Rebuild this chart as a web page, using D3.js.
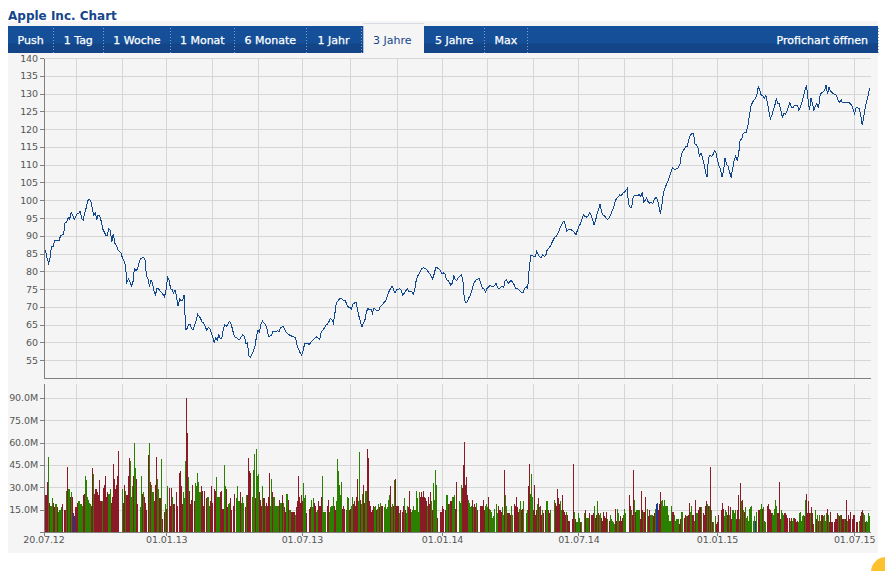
<!DOCTYPE html>
<html>
<head>
<meta charset="utf-8">
<script src="https://d3js.org/d3.v7.min.js"></script>
<style>
body { margin: 0; background: #fff; }
svg { display: block; }
.axis text { font-family: "DejaVu Sans", sans-serif; font-size: 9.5px; fill: #555; letter-spacing: -0.1px; }
.axis path, .axis line { stroke: #808080; shape-rendering: crispEdges; }
.grid line { stroke: #d6d6d6; shape-rendering: crispEdges; }
.grid path { display: none; }
.grid text { display: none; }
</style>
</head>
<body>
<div id="chart"></div>
<script>
// Setting height and width
var w = 885;
var h = 571;

var title = "Apple Inc. Chart";
var tabs = ["Push", "1 Tag", "1 Woche", "1 Monat", "6 Monate", "1 Jahr", "3 Jahre", "5 Jahre", "Max"];
var activeTab = "3 Jahre";
var proLink = "Profichart öffnen";

var priceTicks = d3.range(55, 141, 5);
var volumeTicks = [0, 15, 30, 45, 60, 75, 90];

// the chart snaps its month lines to the last trading day before the month
var gridDates = ["2012-09-01", "2012-11-01", "2012-12-30", "2013-03-01", "2013-05-01", "2013-06-28",
	"2013-08-31", "2013-11-01", "2013-12-31", "2014-03-01", "2014-05-01", "2014-06-30",
	"2014-08-29", "2014-11-01", "2014-12-31", "2015-03-01", "2015-05-01", "2015-07-01"];
var labelDates = ["2012-07-20", "2012-12-30", "2013-06-28", "2013-12-31", "2014-06-30", "2014-12-31", "2015-07-01"];
var labelTexts = ["20.07.12", "01.01.13", "01.07.13", "01.01.14", "01.07.14", "01.01.15", "01.07.15"];

var startDate = "2012-07-20";
var endDate = "2015-07-22";

var prices = [
	86.3,86,84,82.4,84,87.2,87,88.8,88.7,88.7,88.7,90.2,90.4,90.5,94,94,95.2,94.8,96.6,96,
	94.8,95.4,96.3,96.3,97,95,94.5,96.6,98,100.1,100.3,100.1,98,95.9,96.5,94.8,96,95.6,94.2,92,
	91.2,90.3,90.3,92,91.7,88.5,90.7,88,87.5,86.3,85.7,85.4,84,83.2,82,77.1,78,77.3,76,77,
	80.9,80.2,80.8,82.5,83.7,83.9,84.1,83.6,79,78,75.9,77.6,76.8,74.5,73.5,75.5,75.3,74.5,74.3,73.6,
	73,75,78.5,77.6,75.3,75,74,74.8,72.9,70.3,72.4,71.8,72,73.6,63.8,64,65.2,65.2,64,63.8,
	65,66.4,68,67.5,66.8,65.8,65.6,64.5,63.6,64.4,64,63,61.5,60.2,61.5,60.9,62.2,61.3,61.2,64,
	65.1,64.6,65.3,66,65.6,64,62.2,61.6,61.5,60.9,61,61.8,62.3,61.8,59.8,60,56.4,56,56.9,57.8,
	59,61.8,63.5,63.1,65.2,66.1,65.6,65.2,64,61.7,62,62.1,63.4,63.2,63.2,63.5,63.2,64.2,64.5,64.5,
	63.5,62.9,62.5,62.2,62,61.8,61.7,61.5,59.3,58.2,57.2,56.6,58,59.8,60,59.8,59.6,60.1,60.7,61,
	61.5,61.7,61.4,61,63.1,63.6,64.2,64.9,65.3,65.9,66.9,66.6,65.6,68.2,71.2,71.7,72.4,72.6,72.2,71.9,
	71.8,70.8,70.1,70.1,69.6,70.9,71.2,71.5,69.6,67.5,65.9,64.5,65.6,66.5,68.7,69.8,69.3,69.5,68.4,69.8,
	69.3,69.1,69,70.1,70.6,71,71.5,72,73.4,74.5,75.3,76,75,74,75,75.1,75.3,74.8,73.4,73.9,
	74.6,75.3,74.6,74.3,74.6,73.7,74.8,77.6,78.9,79.4,80.4,81,81.1,80.9,80.6,80,79.4,78.8,78,79.5,
	81.3,81.1,80.8,80.4,79.5,79.7,79.5,77.8,77.6,77.1,76.2,76.9,79,77.8,77.6,78.4,78.8,79.2,77.6,72,
	71.3,71.6,72.7,73.4,74.8,76.5,77.3,77.8,78,78.1,76.5,75.5,75.1,74.3,75.3,75.7,76.1,76,75.9,76.1,
	76.7,75.7,75.1,75.6,75.9,75.5,77.6,77.8,76.7,77.1,77.6,77,76.4,75.4,75.3,75,74.5,74.2,74.3,75.2,
	75.9,75.3,80.9,84.6,84.6,84.3,84.3,85.8,84.9,84.2,84,84.8,84.3,84.6,86.3,86.7,87.2,88.1,89,89.8,
	90,90.7,91.8,92.8,93.7,94.3,93.1,91.4,91.9,92,91.8,91.5,91,90.4,91.7,92.8,93.5,94.7,96.1,95.6,
	95.4,95.6,96.6,96,94.7,93.3,94.3,96.3,97.5,99,96.8,96,95.8,95.1,94.7,95.1,95.9,97.1,97.9,99.8,
	100.7,101,101.6,101.3,102,102.4,102.8,103.4,98.9,98.2,98,101.2,101.5,101.5,101.4,101.8,101.2,102.4,99.6,100.1,
	100.8,99.6,99.3,99.6,99.2,100.3,101,100.3,98.7,96.3,98.7,102,103.4,104.5,105.5,106.7,107.8,109.3,108.9,108.8,
	109,109.3,110.2,113,114,114.6,115.3,115.3,117.4,118.4,119,119,116,115.7,114.9,112.5,113.4,112.1,110.4,108.1,
	106.7,112.1,112.7,112.5,113,114,113.4,111.3,109.8,108.7,106.7,108.5,112.1,110.2,109.7,108.1,106.5,109,111.3,112.6,
	111.3,113.2,117,117.4,118.8,119.2,119.3,120.7,123.5,126.3,127.5,128.2,128.7,129.6,132,131.2,129.6,129.6,128.9,129.6,
	127.7,125.4,123,124,125.4,126.8,128.7,127.3,127.3,125.4,123.5,124.5,124.3,125.2,126.3,127.5,126.3,126.1,126.8,126.8,
	126.8,125.4,126.3,127.7,129.3,131.2,132.4,128.7,125.4,129,127.3,125.4,126.8,127.3,126.1,129.6,130.4,130.6,131,132.5,
	130.1,132,130.8,130.4,130.1,129.9,129.6,128.2,127.7,128.4,127.5,127.5,127.7,127.7,127.7,127.3,126.8,125.6,124.5,126.3,
	126.1,125.9,124,121.2,123.5,126.3,128,129.6,131.8
];

// volume in millions, one slot per pixel column; 0 is an empty slot
var volumes = [
	25,25,34,51,20,18,18,23,20,17, 19,19,17,14,15,15,17,19,0,15,
	15,28,44,29,29,24,27,24,13,11, 17,17,20,21,21,19,19,18,25,26,
	38,35,24,22,20,19,18,43,39,26, 29,29,27,25,35,21,21,21,30,32,
	38,24,27,26,26,29,20,24,46,36, 29,32,38,55,0,0,0,29,20,32,
	28,25,25,38,50,48,24,31,38,60, 43,36,19,0,0,17,38,26,27,24,
	20,15,0,52,60,34,32,27,27,21, 32,51,36,29,23,23,49,9,0,14,
	19,16,31,0,30,18,30,24,19,19, 0,27,18,0,40,41,31,19,27,23,
	48,90,67,37,28,19,22,32,0,21, 33,31,40,34,27,27,31,28,18,28,
	0,23,24,24,18,21,31,20,0,29, 28,37,24,24,24,27,28,16,16,45,
	31,29,17,19,20,23,15,0,18,26, 0,23,31,21,21,27,20,24,20,0,
	17,25,25,50,41,40,0,24,42,53, 23,56,38,39,27,22,18,31,23,23,
	18,20,18,24,40,18,36,27,24,24, 18,18,18,18,22,20,20,25,20,17,
	14,26,26,22,15,15,14,14,14,14, 12,17,21,38,24,20,
	25,21,33,23,25,13,0,0,16,17, 22,17,23,20,18,14,15,21,18,18,
	24,38,14,14,14,0,18,22,14,17, 18,18,24,18,15,21,49,41,32,25,
	34,16,18,16,0,15,24,23,15,16, 18,24,19,21,18,24,36,21,54,22,
	19,26,32,20,28,28,56,50,21,18, 14,15,18,17,18,15,16,19,17,20,
	18,18,0,17,19,16,17,22,25,31, 17,19,18,35,36,18,18,18,13,15,
	0,14,18,23,15,13,18,17,28,16, 14,15,18,15,15,28,23,14,27,24,
	27,24,28,24,23,21,18,24,19,27, 21,15,33,22,42,32,10,0,0,14,
	14,18,16,0,15,25,25,19,19,21, 21,24,24,25,16,34,0,0,21,20,
	32,30,45,61,32,37,25,22,20,17, 18,22,17,19,17,20,15,0,0,18,
	18,18,22,15,18,19,17,24,16,15, 14,10,11,16,0,19,13,18,15,15,
	14,17,12,42,25,18,13,13,13,12, 18,12,0,19,18,24,17,14,16,21,
	15,16,21,0,0,13,15,31,46,26, 39,24,15,32,12,15,19,23,17,18,
	12,15,13,0,15,21,21,15,13,15, 0,0,0,22,20,18,29,23,19,21,
	15,25,15,14,12,14,12,8,8,0, 0,9,46,14,9,7,7,13,10,7,
	7,0,0,13,15,10,10,10,13,0, 12,12,13,18,10,12,21,13,12,13,
	10,8,14,11,10,14,9,0,8,12, 9,8,7,6,16,8,16,13,8,11,
	8,10,12,16,13,0,0,0,25,18, 15,12,42,22,14,15,15,15,15,9,
	28,15,14,14,24,0,16,11,15,12, 12,12,11,13,16,19,20,15,19,27,
	21,22,18,22,18,18,18,12,8,8, 18,14,14,12,8,9,9,9,6,9,
	14,14,0,10,12,11,11,12,20,14, 18,12,12,8,22,13,13,15,17,17,
	17,0,13,12,18,21,19,18,18,44, 15,7,7,0,11,6,7,12,0,0,
	15,20,16,11,15,14,12,18,12,17, 9,15,15,13,15,9,15,25,9,33,
	21,22,15,14,17,10,11,8,16,17, 18,0,8,11,8,14,0,15,15,16,
	19,16,17,8,7,0,18,19,16,15, 13,13,12,16,22,18,13,13,34,9,
	15,13,12,13,13,12,10,0,10,8, 10,8,10,10,9,7,8,7,13,14,
	8,11,12,11,22,26,13,21,13,13, 17,13,6,0,15,9,12,8,12,8,
	12,12,11,12,8,13,16,12,7,14, 7,7,0,7,9,9,13,12,11,12,
	12,9,9,9,9,22,8,12,9,14, 0,9,12,12,0,7,7,0,8,11,
	14,15,13,12,7,8,7,13,11
];

// day direction of each volume slot: r down, g up, b unchanged, - empty
var volumeMoves = [
	"rrrgrgggrr","ggrggggr-r","rgrggrgrbb","rrrgggggrr","ggggggrrgr","rrrrrrrgrr","rrrgggrrrr","rrrr---grr",
	"grrrrgggrg","grr--ggrgr","rr-rgrgggr","rrggrrgr-r","grg-rrrgrr","-rr-rrrrgg","grrgrrrr-r","ggggggrrrr",
	"-rgggrrr-r","rggggrrrrg","grrggrr-rr","-ggggrggg-","rgrrrr-ggg","rgggrrrgrr","grrrrggrgg","ggggrggrgr",
	"rggrggrrrr","grrrrr",
	"rrgggr--rr","gggrrggrrr","rgggg-rrgg","gggrrggggg","grrr-gggrr","ggrrrrrggr","ggrrggrrrr","rrrggrggrg",
	"rr-ggggggr","ggrgrrrrgr","-rrgrggrrr","gggggggggr","rrrrrrgrrr","grggggr--r","rrr-rggrgr","rgggrr--gg",
	"grrrrrrggg","grgrrgr--r","rrrrgggrgg","gggg-ggrrr","rggrggrrrr","gg-rrrrrgg","rrg--ggrrg","ggrrrrgrgr",
	"rgr-rggrrg","---grrrrrg","grrrrgrrr-","-rrgrggggr","g--grgggr-","rrrgrrgrgg",
	"rrrrrrg-rg","ggggrrggrr","rrggg---rr","grrgrggggr","rrgrr-grrg","ggrrgbbrrr","gggggggggg","grrgggggrr",
	"gg-rrgrrrg","grrgrggrrr","g-rrrrgrgr","grg-grrr--","rrrgggrrgr","rggggrrrgr","grgrgggggg","g-ggbg-rrg",
	"grggg-rrrr","rgggggrrrr","gggrrrr-rg","rggrrrrggg","gggrgrrrrg","rrr-grgrgg","rrggggrgrr","rr-rrrrgrg",
	"rrrgrrgrrr","-rrr-rr-gr","rrggrgggg"
].join("");

var parseDate = d3.timeParse("%Y-%m-%d");

var moveColor = { r: "#8a1a26", g: "#2b8000", b: "#1b3b8f" };

var plotLeft = 44;
var plotRight = 870.5;

var svg = d3.select("#chart").append("svg")
	.attr("width", w)
	.attr("height", h);

// Panel background
svg.append("rect").attr("x", 8).attr("y", 21).attr("width", 870).attr("height", 532).attr("fill", "#f5f5f5");

// Title
svg.append("text")
	.attr("x", 8).attr("y", 20)
	.attr("font-family", "'DejaVu Sans', sans-serif")
	.attr("font-size", 12).attr("font-weight", "bold")
	.attr("fill", "#15458a")
	.text(title);

// Tab bar
var grad = svg.append("defs").append("linearGradient")
	.attr("id", "bar").attr("x1", 0).attr("x2", 0).attr("y1", 0).attr("y2", 1);
grad.append("stop").attr("offset", "0").attr("stop-color", "#15509a");
grad.append("stop").attr("offset", "0.62").attr("stop-color", "#154f98");
grad.append("stop").attr("offset", "0.66").attr("stop-color", "#134689");
grad.append("stop").attr("offset", "1").attr("stop-color", "#134487");

svg.append("rect").attr("x", 8).attr("y", 26).attr("width", 870).attr("height", 27).attr("fill", "url(#bar)");

var tabWidths = [45.3, 50, 67, 64, 72, 54.4, 63.3, 60.3, 43];
var tabEdges = [8];
tabWidths.forEach(function(d) { tabEdges.push(tabEdges[tabEdges.length - 1] + d); });

var tab = svg.append("g").selectAll("g")
	.data(tabs)
	.enter().append("g");

tab.filter(function(d) { return d == activeTab; }).append("rect")
	.attr("x", function(d) { return tabEdges[tabs.indexOf(d)] + 2.6; })
	.attr("y", 23)
	.attr("width", function(d) { return tabWidths[tabs.indexOf(d)] - 2.6; })
	.attr("height", 30)
	.attr("fill", "#f5f5f5");

tab.filter(function(d) { return d == activeTab; }).append("line")
	.attr("x1", function(d) { return tabEdges[tabs.indexOf(d)] + 2.6; })
	.attr("x2", function(d) { return tabEdges[tabs.indexOf(d) + 1]; })
	.attr("y1", 23.5).attr("y2", 23.5)
	.attr("stroke", "#d8dde4");

tab.append("text")
	.attr("x", function(d, i) { return tabEdges[i] + tabWidths[i] / 2; })
	.attr("y", 44)
	.attr("text-anchor", "middle")
	.attr("font-family", "'DejaVu Sans', sans-serif")
	.attr("font-size", 11)
	.attr("stroke", function(d) { return d == activeTab ? "none" : "#fff"; })
	.attr("stroke-width", 0.25)
	.attr("fill", function(d) { return d == activeTab ? "#15458a" : "#fff"; })
	.text(function(d) { return d; });

svg.append("g").selectAll("line")
	.data(tabEdges.slice(1).concat([877.5]).filter(function(d, i) { return i != 6; }))
	.enter().append("line")
	.attr("x1", function(d) { return Math.round(d) + 0.5; })
	.attr("x2", function(d) { return Math.round(d) + 0.5; })
	.attr("y1", 28).attr("y2", 53)
	.attr("stroke", "#7ea0cc")
	.attr("stroke-dasharray", "1,2");

svg.append("text")
	.attr("x", 868).attr("y", 44)
	.attr("text-anchor", "end")
	.attr("font-family", "'DejaVu Sans', sans-serif")
	.attr("font-size", 11)
	.attr("stroke", "#fff")
	.attr("stroke-width", 0.25)
	.attr("fill", "#fff")
	.text(proLink);

// Scales
var x = d3.scaleTime()
	.domain([parseDate(startDate), parseDate(endDate)])
	.range([plotLeft, plotRight]);

var yPrice = d3.scaleLinear().domain([50, 140]).range([378.5, 58.5]);
var yVolume = d3.scaleLinear().domain([0, 100]).range([532.5, 383.5]);

var xSlot = d3.scaleBand()
	.domain(d3.range(volumes.length))
	.range([45, 45 + volumes.length]);

// Grid
function addGrid(y, ticks, top, bottom) {
	svg.append("g")
		.attr("class", "grid")
		.attr("transform", "translate(0," + bottom + ")")
		.call(d3.axisBottom(x)
			.offset(0)
			.tickValues(gridDates.map(parseDate))
			.tickSize(top - bottom)
			.tickSizeOuter(0)
			.tickFormat(""));

	svg.append("g")
		.attr("class", "grid")
		.attr("transform", "translate(" + plotLeft + ",0)")
		.call(d3.axisRight(y)
			.offset(0)
			.tickValues(ticks)
			.tickSize(plotRight - plotLeft)
			.tickSizeOuter(0)
			.tickFormat(""));
}
addGrid(yPrice, priceTicks, 58.5, 378.5);
addGrid(yVolume, volumeTicks, 384, 532.5);

// Volume bars
svg.append("g")
	.attr("shape-rendering", "crispEdges")
	.selectAll("rect")
	.data(volumes)
	.enter().append("rect")
	.attr("x", function(d, i) { return xSlot(i); })
	.attr("y", function(d) { return yVolume(d); })
	.attr("width", xSlot.bandwidth())
	.attr("height", function(d) { return yVolume(0) - yVolume(d); })
	.attr("fill", function(d, i) { return moveColor[volumeMoves[i]] || "none"; });

// Price line
var line = d3.line()
	.x(function(d, i) { return x(d3.timeDay.offset(parseDate(startDate), i * 2)); })
	.y(function(d) { return yPrice(d); });

svg.append("path")
	.datum(prices)
	.attr("d", line)
	.attr("fill", "none")
	.attr("stroke", "#10478f")
	.attr("stroke-width", 1)
	.attr("shape-rendering", "crispEdges");

// Axes
svg.append("g")
	.attr("class", "axis")
	.attr("transform", "translate(" + plotLeft + ",0)")
	.call(d3.axisLeft(yPrice).offset(0).tickValues(priceTicks).tickSize(4).tickSizeOuter(0).tickPadding(2)
		.tickFormat(d3.format("d")));

svg.append("g")
	.attr("class", "axis")
	.attr("transform", "translate(" + plotLeft + ",0)")
	.call(d3.axisLeft(yVolume).offset(0).tickValues(volumeTicks).tickSize(4).tickSizeOuter(0).tickPadding(2)
		.tickFormat(function(d) { return d ? d3.format(".1f")(d) + "M" : ""; }));

svg.append("g")
	.attr("class", "axis")
	.attr("transform", "translate(0,378.5)")
	.call(d3.axisBottom(x).offset(0).tickValues([]).tickSizeOuter(0));

svg.append("g")
	.attr("class", "axis")
	.attr("transform", "translate(0,532.5)")
	.call(d3.axisBottom(x)
		.offset(0)
		.tickValues(labelDates.map(parseDate))
		.tickSize(3)
		.tickSizeOuter(0)
		.tickPadding(1)
		.tickFormat(function(d, i) { return labelTexts[i]; }));

// Corner badge from the page behind the chart
svg.append("circle").attr("cx", 886).attr("cy", 572).attr("r", 15).attr("fill", "#fcc22e");
</script>
</body>
</html>
